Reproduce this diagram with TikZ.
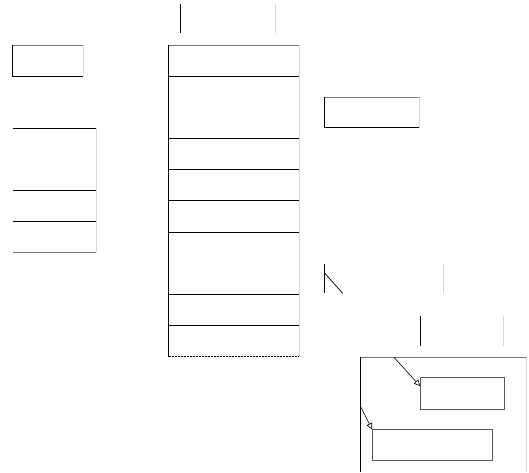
\documentclass[tikz,border=0pt]{standalone}
\usepackage{xcolor}
\usepackage{tikz}
\usetikzlibrary{arrows.meta}

\tikzset{
  cell/.style={draw=none, inner sep=0pt, outer sep=0pt, anchor=north west},
  dark/.style={draw=black, line width=1pt},
  mid/.style={draw=black!55, line width=1pt},
  pale/.style={draw=black!15, line width=1pt},
  inner/.style={cell, draw=black!65, line width=1pt},
  pointer/.style={draw=black, line width=.6pt, -{Triangle[open,length=6pt,width=6pt]}}
}

% box with a lit top edge and a pale right edge
\newcommand{\litbox}[1]{%
  \draw[mid] (#1.north west) -- (#1.north east);
  \draw[pale] (#1.north east) -- (#1.south east);
  \draw[dark] (#1.north west) -- (#1.south west) -- (#1.south east);
}

\begin{document}
\begin{tikzpicture}[x=1pt, y=-1pt]
  \useasboundingbox (0,0) rectangle (529,472);

  % top markers
  \draw[dark] (180.7,4) -- (180.7,33);
  \draw[pale] (275,4) -- (275,33);

  % small box, left
  \node[cell, minimum width=70.3pt, minimum height=31pt] (tag) at (12.7,45) {};
  \litbox{tag}

  % left column
  \node[cell, minimum width=83.3pt, minimum height=62.7pt] (lrowa) at (12.7,128) {};
  \node[cell, minimum width=83.3pt, minimum height=31pt] (lrowb) at (lrowa.south west) {};
  \node[cell, minimum width=83.3pt, minimum height=30.3pt] (lrowc) at (lrowb.south west) {};
  \draw[dark] (lrowa.north west) -- (lrowa.north east);
  \draw[dark] (lrowb.north west) -- (lrowb.north east);
  \draw[dark] (lrowc.north west) -- (lrowc.north east);
  \draw[mid] (lrowc.south west) -- (lrowc.south east);
  \draw[pale] (lrowa.north east) -- (lrowc.south east);

  % middle column
  \foreach \name/\top/\bot in {mrowa/45/76, mrowb/76/138, mrowc/138/169, mrowd/169/200.7,
                               mrowe/200.7/232, mrowf/232/294, mrowg/294/325.7, mrowh/325.7/356.7}
    \node[cell, minimum width=130.8pt, minimum height={(\bot-\top)*1pt}] (\name) at (168.5,\top) {};
  \draw[mid] (mrowa.north west) -- (mrowa.north east);
  \foreach \name in {mrowa, mrowb, mrowc, mrowd, mrowe, mrowf, mrowg}
    \draw[dark] (\name.south west) -- (\name.south east);
  \draw[dark, dash pattern=on 2pt off 1pt] (mrowh.south west) -- (mrowh.south east);
  \draw[dark] (mrowa.north west) -- (mrowh.south west);
  \draw[pale] (mrowa.north east) -- (mrowh.south east);

  % small box, right
  \node[cell, minimum width=95pt, minimum height=30.4pt] (note) at (324.3,97.3) {};
  \litbox{note}

  % markers, right
  \draw[dark] (324.3,264) -- (324.3,293.3);
  \draw[dark, line width=.7pt] (324.3,272.7) -- (342.7,293.3);
  \draw[pale] (443.3,264) -- (443.3,293.3);
  \draw[dark] (420.7,316) -- (420.7,345.7);
  \draw[pale] (503.3,316) -- (503.3,345.7);

  % frame with two boxes
  \coordinate (frametl) at (360.7,357.3);
  \coordinate (frametr) at (526.7,357.3);
  \draw[dark] (frametl) -- (360.7,472);
  \draw[mid] (frametl) -- (frametr);
  \draw[pale] (frametr) -- (526.7,472);
  \node[inner, minimum width=84.3pt, minimum height=31.7pt] (boxa) at (420,377.3) {};
  \node[inner, minimum width=120.3pt, minimum height=31.4pt] (boxb) at (372,429.3) {};
  \coordinate (srca) at (394,357.3);
  \coordinate (srcb) at (360.7,406.7);
  \coordinate (hita) at (420,386);
  \draw[pointer] (srca) -- (hita);
  \draw[pointer] (srcb) -- (boxb.north west);
\end{tikzpicture}
\end{document}
